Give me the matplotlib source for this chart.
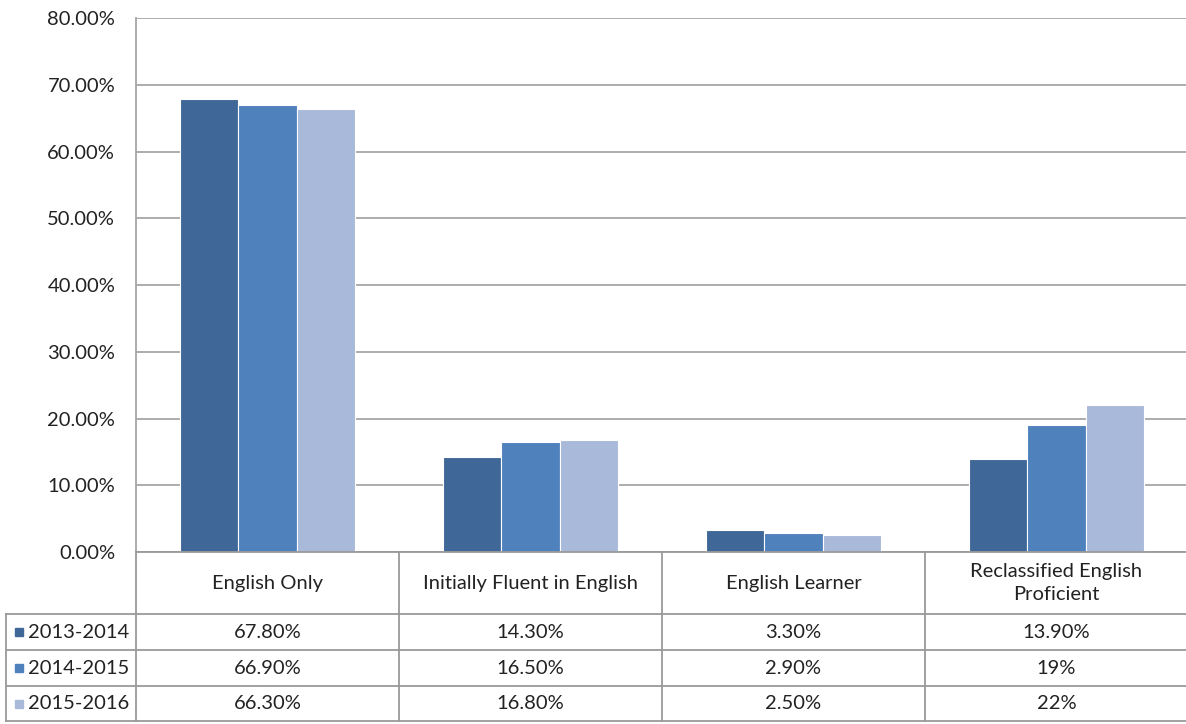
import numpy as np
import matplotlib.pyplot as plt
from matplotlib.lines import Line2D

plt.rcParams['font.family'] = ['Lato', 'DejaVu Sans']

categories = ['English Only', 'Initially Fluent in English', 'English Learner',
              'Reclassified English\nProficient']
years = ['2013-2014', '2014-2015', '2015-2016']
v_2013 = [67.8, 14.3, 3.3, 13.9]
v_2014 = [66.9, 16.5, 2.9, 19.0]
v_2015 = [66.3, 16.8, 2.5, 22.0]
table_text = [
    ['67.80%', '14.30%', '3.30%', '13.90%'],
    ['66.90%', '16.50%', '2.90%', '19%'],
    ['66.30%', '16.80%', '2.50%', '22%'],
]
colors = ['#3F6797', '#4F81BD', '#A9B9D9']
yticks = [0, 10, 20, 30, 40, 50, 60, 70, 80]
fs = 14.5

W, H = 1186, 724
fig = plt.figure(figsize=(W / 100, H / 100), dpi=100)

# plot area in pixel terms
x0, x1 = 136, 1188
y_top, y_bot = 18, 552
ax = fig.add_axes([x0 / W, 1 - y_bot / H, (x1 - x0) / W, (y_bot - y_top) / H])

x = np.arange(len(categories))
bw = 0.222
for i, vals in enumerate([v_2013, v_2014, v_2015]):
    ax.bar(x + (i - 1) * bw, vals, width=bw, color=colors[i],
           edgecolor='white', linewidth=0.8, zorder=3)

ax.set_xlim(-0.5, len(categories) - 0.5)
ax.set_ylim(0, 80)
ax.set_yticks(yticks)
ax.set_yticklabels(['%.2f%%' % t for t in yticks], fontsize=fs, color='#222222')
ax.tick_params(axis='y', length=0, pad=15)
ax.set_xticks([])
ax.grid(axis='y', color='#A6A6A6', linewidth=1.3, zorder=0)
for s in ['top', 'right', 'bottom']:
    ax.spines[s].set_visible(False)
ax.spines['left'].set_color('#A6A6A6')
ax.spines['left'].set_linewidth(1.3)

# data table under the plot
line_kw = dict(color='#9A9A9A', linewidth=1.3)
def px_line(xs, ys):
    fig.add_artist(Line2D([v / W for v in xs], [1 - v / H for v in ys], **line_kw))

cw = (x1 - x0) / len(categories)
row_y = [552, 614, 650, 686, 721]
left_x = 6
px_line([x0, x1], [row_y[0], row_y[0]])
for ry in row_y[1:]:
    px_line([left_x, x1], [ry, ry])
px_line([left_x, left_x], [row_y[1], row_y[-1]])
for k in range(len(categories)):
    cx = x0 + k * cw
    px_line([cx, cx], [row_y[0], row_y[-1]])

for k, cat in enumerate(categories):
    cx = x0 + (k + 0.5) * cw
    fig.text(cx / W, 1 - (row_y[0] + row_y[1]) / 2 / H, cat, ha='center',
             va='center', fontsize=fs, color='#222222', linespacing=1.4)
    for r in range(len(years)):
        cy = (row_y[r + 1] + row_y[r + 2]) / 2
        fig.text(cx / W, 1 - cy / H, table_text[r][k], ha='center',
                 va='center', fontsize=fs, color='#222222')

for r, yr in enumerate(years):
    cy = (row_y[r + 1] + row_y[r + 2]) / 2
    fig.patches.append(plt.Rectangle(((left_x + 9) / W, 1 - (cy + 4) / H),
                                     8 / W, 8 / H, color=colors[r],
                                     transform=fig.transFigure))
    fig.text((left_x + 22) / W, 1 - cy / H, yr, ha='left', va='center',
             fontsize=fs, color='#222222')

fig.savefig('out.png', dpi=100, facecolor='white')
